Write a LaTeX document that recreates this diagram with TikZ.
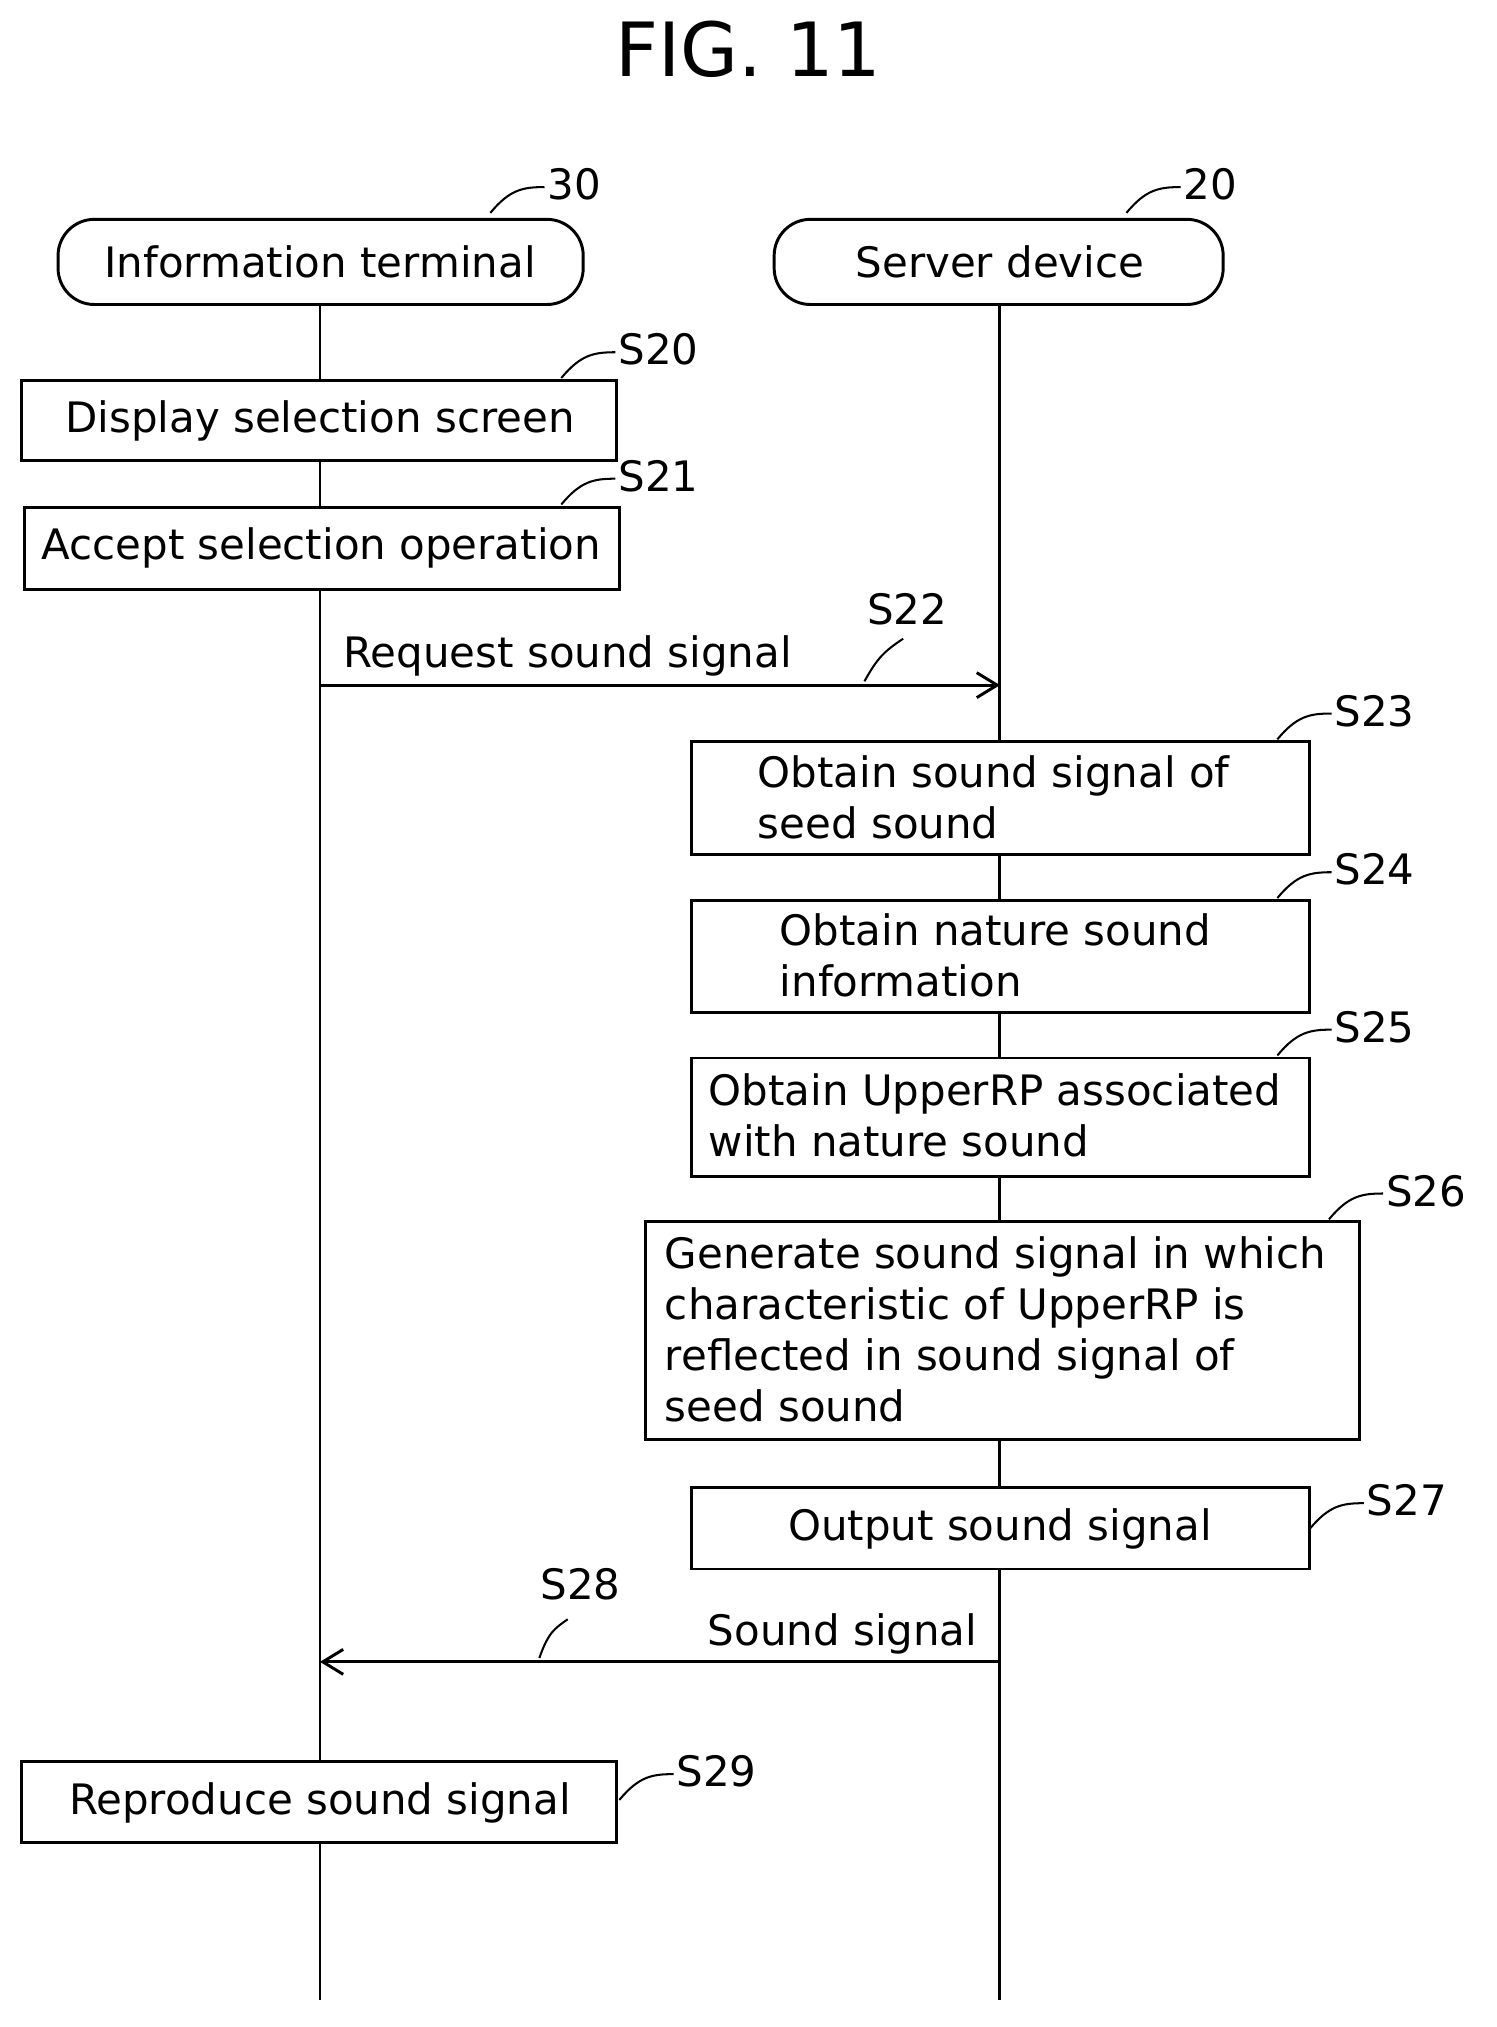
\documentclass[tikz,border=0pt]{standalone}
\usepackage{fontspec}
\setmainfont{DejaVu Sans}
\usetikzlibrary{positioning, arrows.meta, calc}

\begin{document}
\begin{tikzpicture}[
        x=0.02cm, y=-0.02cm,
        every node/.style={font=\fontsize{18.5}{22.5}\selectfont, inner sep=0pt},
        actor/.style={rounded corners=16pt, line width=1.3pt},
        stepbox/.style={line width=1.3pt},
        txt/.style={align=left, anchor=north west},
        tag/.style={anchor=west},
        life/.style={line width=1.3pt},
        msg/.style={line width=1.3pt, -{Straight Barb[length=9pt, width=11pt, line width=1.3pt]}},
        squig/.style={line width=0.9pt}
    ]
    \useasboundingbox (0,0) rectangle (1160,1571);
    \node[font=\fontsize{33}{38}\selectfont] (title) at (580,38) {FIG. 11};

    % actors
    \draw[actor] (45,170) rectangle (452,236);
    \node (termtxt) at (248,203) {Information terminal};
    \draw[actor] (600,170) rectangle (948,236);
    \node (servtxt) at (775,203) {Server device};
    \coordinate (termtop) at (248,236);
    \coordinate (termbot) at (248,1550);
    \coordinate (servtop) at (775,236);
    \coordinate (servbot) at (775,1550);
    \draw[life] (termtop) -- (termbot);
    \draw[life] (servtop) -- (servbot);

    % steps
    \draw[stepbox, fill=white] (17,295) rectangle (478,357);
    \node (s20) at (248,326) {Display selection screen};
    \draw[stepbox, fill=white] (19,393) rectangle (480,457);
    \node (s21) at (249,425) {Accept selection operation};
    \draw[stepbox, fill=white] (536,575) rectangle (1015,662);
    \node[txt] (s23) at (587,585) {Obtain sound signal of\\seed sound};
    \draw[stepbox, fill=white] (536,698) rectangle (1015,785);
    \node[txt] (s24) at (604,708) {Obtain nature sound\\information};
    \draw[stepbox, fill=white] (536,820) rectangle (1015,912);
    \node[txt] (s25) at (549,832) {Obtain UpperRP associated\\with nature sound};
    \draw[stepbox, fill=white] (500,947) rectangle (1054,1116);
    \node[txt] (s26) at (515,958) {Generate sound signal in which\\characteristic of UpperRP is\\reflected in sound signal of\\seed sound};
    \draw[stepbox, fill=white] (536,1153) rectangle (1015,1216);
    \node (s27) at (775,1185) {Output sound signal};
    \draw[stepbox, fill=white] (17,1365) rectangle (478,1428);
    \node (s29) at (248,1397) {Reproduce sound signal};

    % messages
    \coordinate (req) at (248,531);
    \coordinate (reqend) at (775,531);
    \draw[msg] (req) -- (reqend);
    \node (reqtxt) at (440,508) {Request sound signal};
    \coordinate (ret) at (775,1288);
    \coordinate (retend) at (248,1288);
    \draw[msg] (ret) -- (retend);
    \node (rettxt) at (653,1266) {Sound signal};

    % reference labels
    \foreach \a/\b/\lbl in {380/165/30, 873/165/20, 435/293/S20, 435/391/S21,
                            990/573/S23, 990/696/S24, 990/818/S25, 1030/945/S26,
                            1015/1185/S27, 480/1395/S29} {
        \draw[squig] (\a,\b) .. controls (\a+15,\b-18) and (\a+25,\b-20) .. (\a+42,\b-20);
        \node[tag] at (\a+44,\b-22) {\lbl};
    }
    \draw[squig] (670,528) .. controls (680,510) and (685,505) .. (700,495);
    \node (s22) at (703,472) {S22};
    \draw[squig] (418,1285) .. controls (425,1265) and (430,1262) .. (440,1255);
    \node (s28) at (450,1228) {S28};
\end{tikzpicture}
\end{document}
